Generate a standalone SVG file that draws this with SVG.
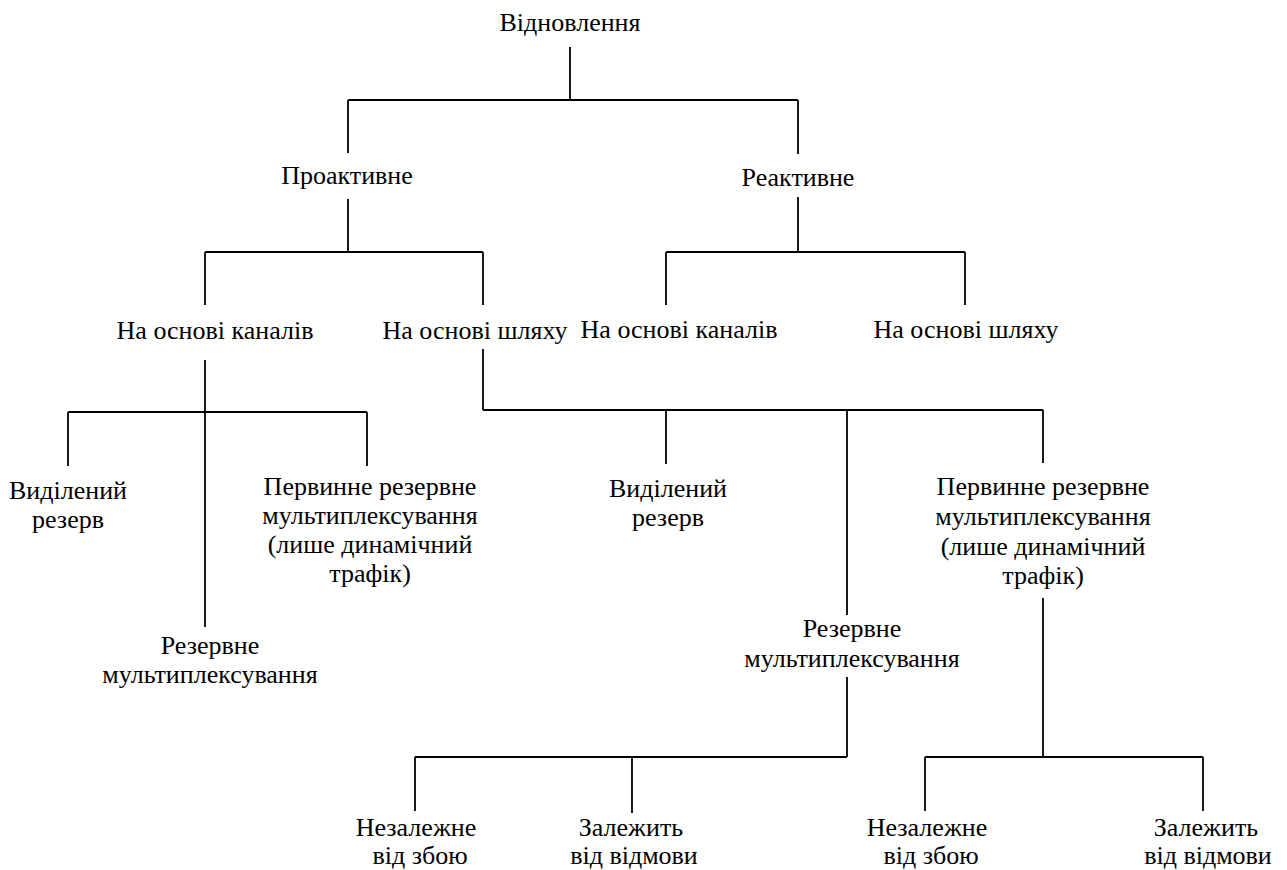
<svg xmlns="http://www.w3.org/2000/svg" width="1287" height="870" viewBox="0 0 1287 870">
  <style>
    text { font-family: 'Liberation Serif', 'DejaVu Serif', serif; font-size: 26px; fill: #000; text-anchor: middle; }
    .ln { stroke: #000; stroke-width: 1.8; fill: none; stroke-linecap: butt; }
    .bar { stroke: #000; stroke-width: 2.2; fill: none; }
  </style>
  <rect width="1287" height="870" fill="#fff"/>

  <!-- connectors -->
  <g id="connectors">
    <!-- root -->
    <line class="ln" x1="570" y1="47" x2="570" y2="100"/>
    <line class="bar" x1="348" y1="100" x2="798" y2="100"/>
    <line class="ln" x1="348" y1="100" x2="348" y2="153"/>
    <line class="ln" x1="798" y1="100" x2="798" y2="154"/>
    <!-- proactive -->
    <line class="ln" x1="348" y1="199" x2="348" y2="252"/>
    <line class="bar" x1="205" y1="252" x2="483" y2="252"/>
    <line class="ln" x1="205" y1="252" x2="205" y2="305"/>
    <line class="ln" x1="483" y1="252" x2="483" y2="305"/>
    <!-- reactive -->
    <line class="ln" x1="798" y1="197" x2="798" y2="252"/>
    <line class="bar" x1="666" y1="252" x2="965" y2="252"/>
    <line class="ln" x1="666" y1="252" x2="666" y2="305"/>
    <line class="ln" x1="965" y1="252" x2="965" y2="305"/>
    <!-- proactive / channel based -->
    <line class="ln" x1="205" y1="360" x2="205" y2="627"/>
    <line class="bar" x1="68" y1="412" x2="367" y2="412"/>
    <line class="ln" x1="68" y1="412" x2="68" y2="466"/>
    <line class="ln" x1="367" y1="412" x2="367" y2="466"/>
    <!-- proactive / path based -->
    <line class="ln" x1="483" y1="349" x2="483" y2="410"/>
    <line class="bar" x1="483" y1="410" x2="1043" y2="410"/>
    <line class="ln" x1="666" y1="410" x2="666" y2="464"/>
    <line class="ln" x1="847" y1="410" x2="847" y2="615"/>
    <line class="ln" x1="1043" y1="410" x2="1043" y2="463"/>
    <!-- path based / backup multiplexing -->
    <line class="ln" x1="847" y1="677" x2="847" y2="757"/>
    <line class="bar" x1="415" y1="757" x2="847" y2="757"/>
    <line class="ln" x1="415" y1="757" x2="415" y2="811"/>
    <line class="ln" x1="632" y1="757" x2="632" y2="813"/>
    <!-- path based / primary-backup multiplexing -->
    <line class="ln" x1="1043" y1="598" x2="1043" y2="757"/>
    <line class="bar" x1="925" y1="757" x2="1203" y2="757"/>
    <line class="ln" x1="925" y1="757" x2="925" y2="811"/>
    <line class="ln" x1="1203" y1="757" x2="1203" y2="811"/>
  </g>

  <g id="root"><text x="570" y="31">Відновлення</text></g>
  <g id="proactive"><text x="347" y="184">Проактивне</text></g>
  <g id="reactive"><text x="798" y="186">Реактивне</text></g>

  <g id="pro-channel"><text x="215" y="339">На основі каналів</text></g>
  <g id="pro-path"><text x="475" y="339">На основі шляху</text></g>
  <g id="re-channel"><text x="679" y="338">На основі каналів</text></g>
  <g id="re-path"><text x="966" y="338">На основі шляху</text></g>

  <g id="pc-dedicated">
    <text x="68" y="499">Виділений</text>
    <text x="68" y="528">резерв</text>
  </g>
  <g id="pc-backup-mux">
    <text x="210" y="654">Резервне</text>
    <text x="210" y="683">мультиплексування</text>
  </g>
  <g id="pc-primary-backup">
    <text x="370" y="495">Первинне резервне</text>
    <text x="370" y="524">мультиплексування</text>
    <text x="370" y="553">(лише динамічний</text>
    <text x="370" y="582">трафік)</text>
  </g>

  <g id="pp-dedicated">
    <text x="668" y="497">Виділений</text>
    <text x="668" y="526">резерв</text>
  </g>
  <g id="pp-backup-mux">
    <text x="852" y="637">Резервне</text>
    <text x="852" y="667">мультиплексування</text>
  </g>
  <g id="pp-primary-backup">
    <text x="1043" y="495">Первинне резервне</text>
    <text x="1043" y="525">мультиплексування</text>
    <text x="1043" y="555">(лише динамічний</text>
    <text x="1043" y="584">трафік)</text>
  </g>

  <g id="bm-independent">
    <text x="416" y="836">Незалежне</text>
    <text x="420" y="864">від збою</text>
  </g>
  <g id="bm-dependent">
    <text x="631" y="836">Залежить</text>
    <text x="634" y="864">від відмови</text>
  </g>
  <g id="pbm-independent">
    <text x="927" y="836">Незалежне</text>
    <text x="931" y="864">від збою</text>
  </g>
  <g id="pbm-dependent">
    <text x="1206" y="836">Залежить</text>
    <text x="1208" y="864">від відмови</text>
  </g>
</svg>
